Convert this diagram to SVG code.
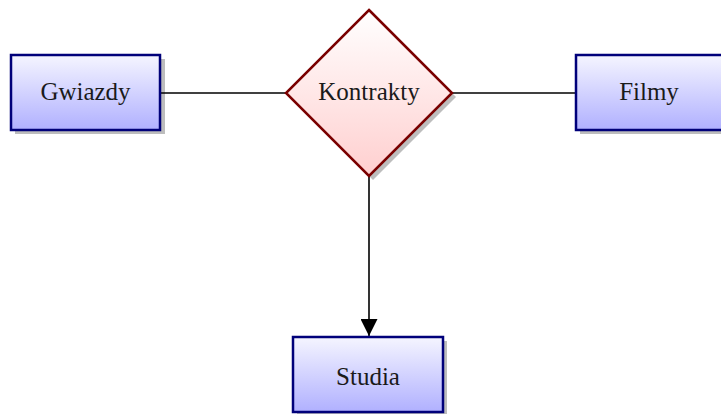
<svg xmlns="http://www.w3.org/2000/svg" width="721" height="414" viewBox="0 0 721 414">
  <defs>
    <linearGradient id="entityFill" x1="0" y1="0" x2="0" y2="1">
      <stop offset="0" stop-color="#f5f5ff"/>
      <stop offset="1" stop-color="#b0b0ff"/>
    </linearGradient>
    <linearGradient id="relFill" x1="0" y1="0" x2="0" y2="1">
      <stop offset="0" stop-color="#ffffff"/>
      <stop offset="1" stop-color="#ffcfcf"/>
    </linearGradient>
    <marker id="arrow" viewBox="0 0 18 17" refX="17" refY="8.5" markerWidth="18" markerHeight="17" markerUnits="userSpaceOnUse" orient="auto">
      <path d="M0,0 L17,8.5 L0,17 Z" fill="#000"/>
    </marker>
  </defs>
  <style>
    .shadow { fill: #bdbdbd; }
    .entity { fill: url(#entityFill); stroke: #00007a; stroke-width: 2.5; }
    .relation { fill: url(#relFill); stroke: #7a0000; stroke-width: 2.5; stroke-linejoin: miter; }
    .label { font-family: "Liberation Serif", "Times New Roman", serif; font-size: 25px; fill: #1a1a1a; text-anchor: middle; }
    .link { stroke: #000; stroke-width: 1.6; fill: none; }
  </style>

  <!-- drop shadows sit underneath everything else -->
  <g id="shadows">
    <rect class="shadow" x="15" y="59" width="150" height="75"/>
    <polygon class="shadow" points="373,14 456,97 373,180 290,97"/>
    <rect class="shadow" x="580" y="59" width="150" height="75"/>
    <rect class="shadow" x="297" y="341" width="150" height="75"/>
  </g>

  <g id="connectors">
    <line class="link" x1="160" y1="93" x2="285" y2="93"/>
    <line class="link" x1="452" y1="93" x2="576" y2="93"/>
    <line class="link" x1="369" y1="176" x2="369" y2="336" marker-end="url(#arrow)"/>
  </g>

  <g id="gwiazdy">
    <rect class="entity" x="11" y="55" width="149" height="75"/>
    <text class="label" x="85.5" y="100">Gwiazdy</text>
  </g>

  <g id="kontrakty">
    <polygon class="relation" points="369,10 452,93 369,176 286,93"/>
    <text class="label" x="369" y="100">Kontrakty</text>
  </g>

  <g id="filmy">
    <rect class="entity" x="576" y="55" width="150" height="75"/>
    <text class="label" x="649" y="100">Filmy</text>
  </g>

  <g id="studia">
    <rect class="entity" x="293" y="337" width="150" height="75"/>
    <text class="label" x="368" y="385">Studia</text>
  </g>
</svg>
